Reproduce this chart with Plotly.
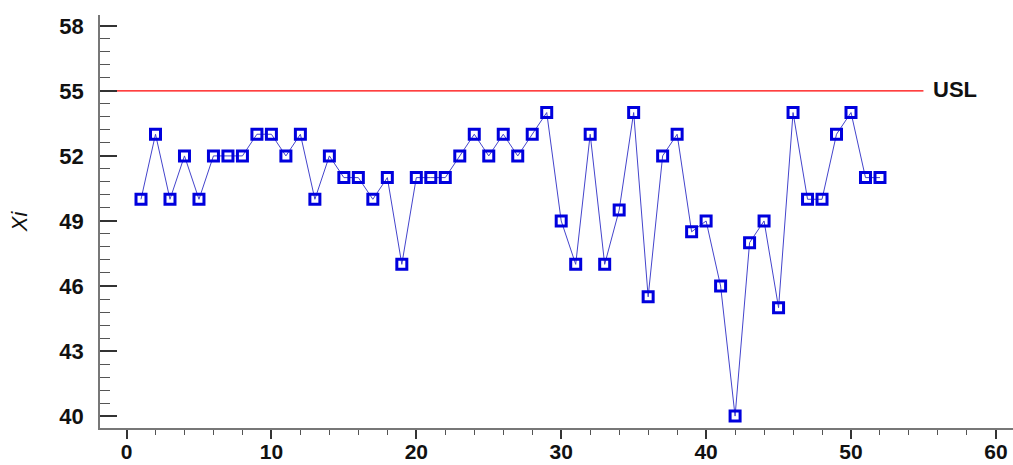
import plotly.graph_objects as go

sample = list(range(1, 53))
xi = [50, 53, 50, 52, 50, 52, 52, 52, 53, 53,
      52, 53, 50, 52, 51, 51, 50, 51, 47, 51,
      51, 51, 52, 53, 52, 53, 52, 53, 54, 49,
      47, 53, 47, 49.5, 54, 45.5, 52, 53, 48.5, 49,
      46, 40, 48, 49, 45, 54, 50, 50, 53, 54,
      51, 51]
usl_value = 55
usl_x = [-1.83, 55]
y_ticks = [40, 43, 46, 49, 52, 55, 58]
x_ticks = [0, 10, 20, 30, 40, 50, 60]

fig = go.Figure()
fig.add_trace(go.Scatter(
    x=usl_x, y=[usl_value, usl_value], mode="lines",
    line=dict(color="#ff0000", width=1.2), hoverinfo="skip", showlegend=False))
fig.add_trace(go.Scatter(
    x=sample, y=xi, mode="lines+markers",
    line=dict(color="#4444cc", width=1),
    marker=dict(symbol="square-open", size=10, color="#0000dd",
                line=dict(width=3, color="#0000dd")),
    showlegend=False))

fig.add_annotation(x=usl_x[1], y=usl_value, xref="x", yref="y",
                   text="<b>USL</b>", showarrow=False, xanchor="left",
                   xshift=8, yshift=1,
                   font=dict(family="Liberation Sans, Arial", size=22, color="#111"))

fig.update_layout(
    width=1013, height=465,
    margin=dict(l=100, r=0, t=15, b=37),
    paper_bgcolor="white", plot_bgcolor="white",
    font=dict(family="Liberation Sans, Arial", color="#111"),
    xaxis=dict(range=[-1.83, 61.18], tickvals=x_ticks,
               ticktext=["<b>%d</b>" % v for v in x_ticks],
               automargin=False,
               showgrid=False, zeroline=False, showline=True,
               linecolor="#777", linewidth=1.5,
               ticks="outside", ticklen=9, tickcolor="#333", tickwidth=1.5,
               minor=dict(dtick=2, tick0=0, ticks="outside", ticklen=5,
                          tickcolor="#555", tickwidth=1),
               tickfont=dict(family="Liberation Sans, Arial", size=21, color="#111"),
               ticklabelstandoff=-5),
    yaxis=dict(range=[39.45, 58.5], tickvals=y_ticks,
               ticktext=["<b>%d</b>" % v for v in y_ticks],
               automargin=False,
               showgrid=False, zeroline=False, showline=True,
               linecolor="#777", linewidth=1.5,
               ticks="inside", ticklen=17, tickcolor="#333", tickwidth=1.5,
               minor=dict(dtick=0.6, tick0=40, ticks="inside", ticklen=10,
                          tickcolor="#555", tickwidth=1),
               tickfont=dict(family="Liberation Sans, Arial", size=22, color="#111"),
               ticklabelstandoff=10,
               title=dict(text="<i>Xi</i>", standoff=26,
                          font=dict(family="Liberation Sans, Arial", size=22, color="#111"))),
)

fig.write_html("out.html")
